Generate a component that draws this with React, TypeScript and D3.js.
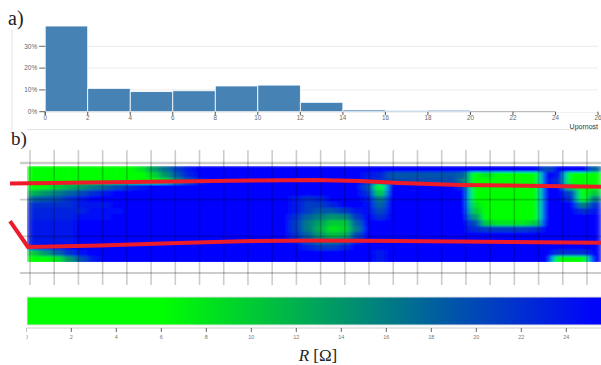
import React from 'react';
import * as d3 from 'd3';

// histogram: share of samples per 2-ohm bin
const binStarts = [0, 2, 4, 6, 8, 10, 12, 14, 16, 18, 20, 22, 24];
const binShare = [39.3, 10.7, 9.2, 9.6, 11.8, 12.2, 4.3, 0.8, 0.6, 0.7, 0, 0, 0.2];
const histXTicks = [0, 2, 4, 6, 8, 10, 12, 14, 16, 18, 20, 22, 24, 26];
const histYTicks = [0, 10, 20, 30];
const legendTicks = [0, 2, 4, 6, 8, 10, 12, 14, 16, 18, 20, 22, 24];

// heatmap of R (ohm), 16 rows x 48 columns
const B = 26;
const heatRows: number[][] = [
  [2, 2, 2, 2, 2, 2, 2, 2, 2, 8, 13, 17, 21, 24, B, B, B, B, B, B, B, B, B, B, B, B, B, B, B, B, B, B, B, B, B, B, B, B, B, B, B, B, B, 20, B, B, B, 18],
  [2, 2, 2, 2, 2, 2, 2, 2, 2, 5, 9, 14, 19, 23, B, B, B, B, B, B, B, B, B, B, B, B, B, B, 24, 23, 19, 19, 19, 19, 19, 19, 18, 2, 8, 2, 2, 2, 2, B, 24, 3, 3, 3],
  [2, 2, 2, 2, 2, 2, 2, 2, 2, 2, 2, 8, 14, 19, 23, B, B, B, B, B, B, B, B, B, B, B, B, B, 23, 22, 20, 20, 20, 20, 20, 20, 16, 2, 2, 2, 2, 2, 2, B, 22, 3, 3, 3],
  [5, 7, 10, 12, 14, 16, 18, 20, 22, 24, B, B, B, B, B, B, B, B, B, B, B, B, B, B, B, B, B, B, 20, 6, B, B, B, B, B, B, 22, 2, 2, 2, 2, 2, 2, B, B, 10, 3, 3],
  [12, 14, 16, 18, 20, 22, 24, B, B, B, B, B, B, B, B, B, B, B, B, B, B, B, B, B, B, B, B, B, 22, 10, B, B, B, B, B, B, B, 4, 2, 2, 2, 2, 2, B, B, 20, 3, 10],
  [18, 19, 20, 22, 24, B, B, B, B, B, B, B, B, B, B, B, B, B, B, B, B, B, 24, 22, 23, B, B, B, 24, 16, B, B, B, B, B, B, B, 6, 2, 2, 2, 2, 2, B, B, 22, 6, 16],
  [22, 22, 22, 22, 24, 24, 24, B, B, B, B, B, B, B, B, B, B, B, B, B, B, B, 24, 21, 21, 23, B, B, 25, 18, B, B, B, B, B, B, B, 8, 2, 2, 2, 2, 2, B, B, B, 16, 22],
  [23, 23, 23, 23, 23, 25, 25, 25, B, B, B, B, B, B, B, B, B, B, B, B, B, B, 24, 21, 19, 19, 21, 24, 25, 20, B, B, B, B, B, B, B, 10, 2, 2, 2, 2, 2, B, B, B, 22, 24],
  [23, 23, 23, 23, 25, 25, 25, B, B, B, B, B, B, B, B, B, B, B, B, B, B, B, 22, 18, 16, 14, 15, 21, B, 22, B, B, B, B, B, B, B, 14, 3, 3, 3, 3, 3, B, B, B, B, B],
  [24, 24, 24, 24, B, B, B, B, B, B, B, B, B, B, B, B, B, B, B, B, B, B, 21, 16, 13, 10, 10, 18, B, B, B, B, B, B, B, B, B, 20, 10, 8, 8, 8, 10, B, B, B, B, B],
  [24, 24, 24, 24, B, B, B, B, B, B, B, B, B, B, B, B, B, B, B, B, B, B, 21, 16, 12, 8, 9, 16, B, B, B, B, B, B, B, B, B, 22, 21, 21, 21, 21, 22, B, B, B, B, B],
  [24, 24, 24, 24, B, B, B, B, B, B, B, B, B, B, B, B, B, B, B, B, B, B, 22, 18, 14, 11, 12, 20, B, B, B, B, B, B, B, B, B, B, B, B, B, B, B, B, B, B, B, B],
  [24, 24, 24, 24, B, B, B, B, B, B, B, B, B, B, B, B, B, B, B, B, B, B, 24, 20, 17, 16, 18, 23, B, B, B, B, B, B, B, B, B, B, B, B, B, B, B, B, B, B, B, B],
  [24, B, B, B, B, B, B, B, B, B, B, B, B, B, B, B, B, B, B, B, B, B, B, 23, 21, 21, 23, B, B, B, B, B, B, B, B, B, B, B, B, B, B, B, B, B, B, B, B, B],
  [10, 14, 18, 22, 25, B, B, B, B, B, B, B, B, B, B, B, B, B, B, B, B, B, B, B, B, B, B, B, B, 24, B, B, B, B, B, B, B, B, B, B, B, B, B, B, 22, 22, 22, B],
  [3, 3, 8, 14, 20, 24, B, B, B, B, B, B, B, B, B, B, B, B, B, B, B, B, B, B, B, B, B, B, B, 24, B, B, B, B, B, B, B, B, B, B, B, B, B, B, 4, 3, 5, B],
];

// rail edges in heatmap units (column, row)
const upperEdge: [number, number][] = [
  [-1.42, 2.92], [11.96, 2.58], [18.65, 2.42], [24.08, 2.33], [27.85, 2.5], [31.19, 2.83], [36.21, 3.17], [48, 3.45],
];
const lowerEdge: [number, number][] = [
  [-1.42, 9.17], [0.08, 13.5], [6.1, 13.25], [11.96, 12.88], [18.65, 12.5], [24.08, 12.42], [31.19, 12.5], [36.21, 12.58], [48, 12.78],
];

const sans = '"Liberation Sans", Arial, sans-serif';
const serif = '"Liberation Serif", "Times New Roman", serif';

export default function App() {
  const W = 601, H = 365;

  // histogram scales
  const hx = d3.scaleLinear().domain([0, 26]).range([45.2, 598]);
  const hy = d3.scaleLinear().domain([0, 40]).range([111.7, 24.5]);

  // heatmap scales
  const nCols = heatRows[0].length;
  const nRows = heatRows.length;
  const cx = d3.scaleBand<number>().domain(d3.range(nCols)).range([27, 601]);
  const cy = d3.scaleBand<number>().domain(d3.range(nRows)).range([166, 262]);
  const ux = d3.scaleLinear().domain([0, nCols]).range([27, 601]);
  const uy = d3.scaleLinear().domain([0, nRows]).range([166, 262]);
  const color = d3.scaleLinear<string>().domain([6, 25.5]).range(['#00ff00', '#0000ff']).clamp(true);

  const gridX = d3.scaleLinear().domain([0, 23]).range([30, 587]);
  const gridY = d3.scaleLinear().domain([0, 3]).range([163, 273]);

  const edgeLine = d3.line<[number, number]>().x(d => ux(d[0])).y(d => uy(d[1]));

  // legend
  const lx = d3.scaleLinear().domain([0, 26]).range([26.3, 611.3]);
  const stops = d3.range(0, 27, 1);

  return (
    <svg width={W} height={H} style={{ position: 'absolute', left: 0, top: 0, background: '#fff' }}>
      <defs>
        <linearGradient id="rgrad" gradientUnits="userSpaceOnUse" x1={lx(0)} x2={lx(26)} y1={0} y2={0}>
          {stops.map(s => (
            <stop key={s} offset={`${(s / 26) * 100}%`} stopColor={color(s)} />
          ))}
        </linearGradient>
        <clipPath id="heatClip">
          <rect x={27} y={166} width={574} height={96} />
        </clipPath>
        <clipPath id="legClip">
          <rect x={26.5} y={290} width={580} height={60} />
        </clipPath>
        <filter id="smooth" x="0" y="0" width="1" height="1">
          <feGaussianBlur stdDeviation="3 0.8" edgeMode="duplicate" />
        </filter>
      </defs>

      {/* a) histogram */}
      <text x={8} y={25} fontFamily={serif} fontSize={20} fill="#222">a)</text>
      <line x1={12} x2={12} y1={30} y2={130} stroke="#e4e4e4" />
      <line x1={27} x2={598} y1={129.5} y2={129.5} stroke="#e4e4e4" />
      {histYTicks.filter(t => t > 0).map(t => (
        <line key={t} x1={hx(0)} x2={598} y1={hy(t)} y2={hy(t)} stroke="#ececec" />
      ))}
      <line x1={hx(0)} x2={hx(26)} y1={hy(0)} y2={hy(0)} stroke="#aaa" />
      {binStarts.map((b, i) => (
        <rect key={b} x={hx(b)} y={hy(binShare[i])} width={hx(b + 2) - hx(b)} height={hy(0) - hy(binShare[i])}
          fill="#4682b4" stroke="#fff" strokeWidth={0.8} />
      ))}
      {histXTicks.map(t => (
        <g key={t} transform={`translate(${hx(t)},${hy(0)})`}>
          <line y1={0} y2={3.5} stroke="#555" />
          <text y={8} textAnchor="middle" fontFamily={sans} fontSize={6.3} fill="#666">{t}</text>
        </g>
      ))}
      <line x1={hx(0)} x2={hx(0)} y1={hy(0)} y2={hy(0) + 3} stroke="#555" />
      {histYTicks.map(t => (
        <g key={t} transform={`translate(${hx(0)},${hy(t)})`}>
          <line x1={-6} x2={0} stroke="#666" />
          <text x={-8} dy="0.35em" textAnchor="end" fontFamily={sans} fontSize={6.5} fill="#666">{t}%</text>
        </g>
      ))}
      <text x={598} y={128.5} textAnchor="end" fontFamily={sans} fontSize={7} fill="#333">Upornost</text>

      {/* b) heatmap */}
      <text x={11} y={145} fontFamily={serif} fontSize={19} fill="#222">b)</text>
      <g clipPath="url(#heatClip)">
        <g filter="url(#smooth)">
          {heatRows.map((row, r) =>
            row.map((v, c) => (
              <rect key={`${r}-${c}`} x={cx(c)} y={cy(r)} width={cx.bandwidth() + 0.5} height={cy.bandwidth() + 0.5}
                fill={color(v)} shapeRendering="crispEdges" />
            ))
          )}
        </g>
      </g>
      {d3.range(24).map(i => (
        <line key={i} x1={gridX(i)} x2={gridX(i)} y1={150} y2={285} stroke="rgba(0,0,0,0.2)" strokeWidth={1.6} />
      ))}
      {d3.range(4).map(i => (
        <line key={i} x1={20} x2={601} y1={gridY(i)} y2={gridY(i)} stroke="rgba(0,0,0,0.2)" strokeWidth={i === 0 ? 2.6 : 1.8} />
      ))}
      <path d={edgeLine(upperEdge) || ''} fill="none" stroke="#ec1c2a" strokeWidth={4} strokeLinejoin="round" />
      <path d={edgeLine(lowerEdge) || ''} fill="none" stroke="#ec1c2a" strokeWidth={4} strokeLinejoin="round" />

      {/* colour legend */}
      <g clipPath="url(#legClip)">
        <rect x={27} y={297} width={580} height={28} fill="url(#rgrad)" stroke="#e2e2e2" />
        <line x1={lx(0)} x2={601} y1={328} y2={328} stroke="#ccc" />
        {legendTicks.map(t => (
          <g key={t} transform={`translate(${lx(t)},328)`}>
            <line y1={0} y2={4} stroke="#666" />
            <text y={11} textAnchor="middle" fontFamily={sans} fontSize={5.5} fill="#777">{t}</text>
          </g>
        ))}
      </g>
      <text x={318} y={361} textAnchor="middle" fontFamily={serif} fontSize={17} fill="#222">
        <tspan fontStyle="italic">R</tspan> [Ω]
      </text>
    </svg>
  );
}
